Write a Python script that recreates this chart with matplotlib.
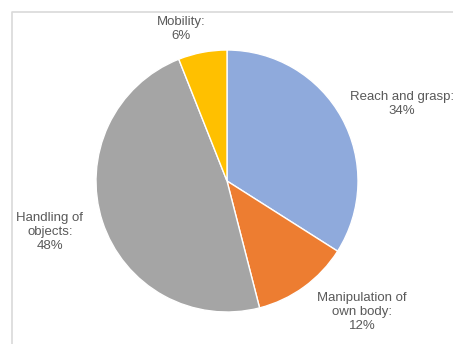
import matplotlib

matplotlib.use("Agg")
import matplotlib.pyplot as plt

labels = ["Reach and grasp:\n34%", "Manipulation of\nown body:\n12%", "Handling of\nobjects:\n48%", "Mobility:\n6%"]
shares = [34, 12, 48, 6]
colors = ["#8FAADC", "#ED7D31", "#A5A5A5", "#FFC000"]
# label anchor points (pixel coords, y from top)
label_pos = [(402, 104), (362, 312), (50, 232), (181, 29)]

W, H = 453, 344
fig = plt.figure(figsize=(W / 100, H / 100), dpi=100)
ax = fig.add_axes([0, 0, 1, 1])

# chart frame
ax.plot([11.5, 11.5, W + 5], [-5, H - 11.5, H - 11.5], color="#D9D9D9", lw=1.2)

ax.pie(shares, colors=colors, startangle=90, counterclock=False,
       center=(227, H - 181), radius=131,
       wedgeprops=dict(edgecolor="white", linewidth=1.0), frame=True)
ax.set_xlim(0, W)
ax.set_ylim(0, H)
ax.set_aspect("equal")
ax.axis("off")

for text, (x, y) in zip(labels, label_pos):
    ax.text(x, H - y, text, ha="center", va="center", multialignment="center",
            fontsize=9.5, color="#595959", family="Liberation Sans", linespacing=1.25)

fig.savefig("out.png", dpi=100)
